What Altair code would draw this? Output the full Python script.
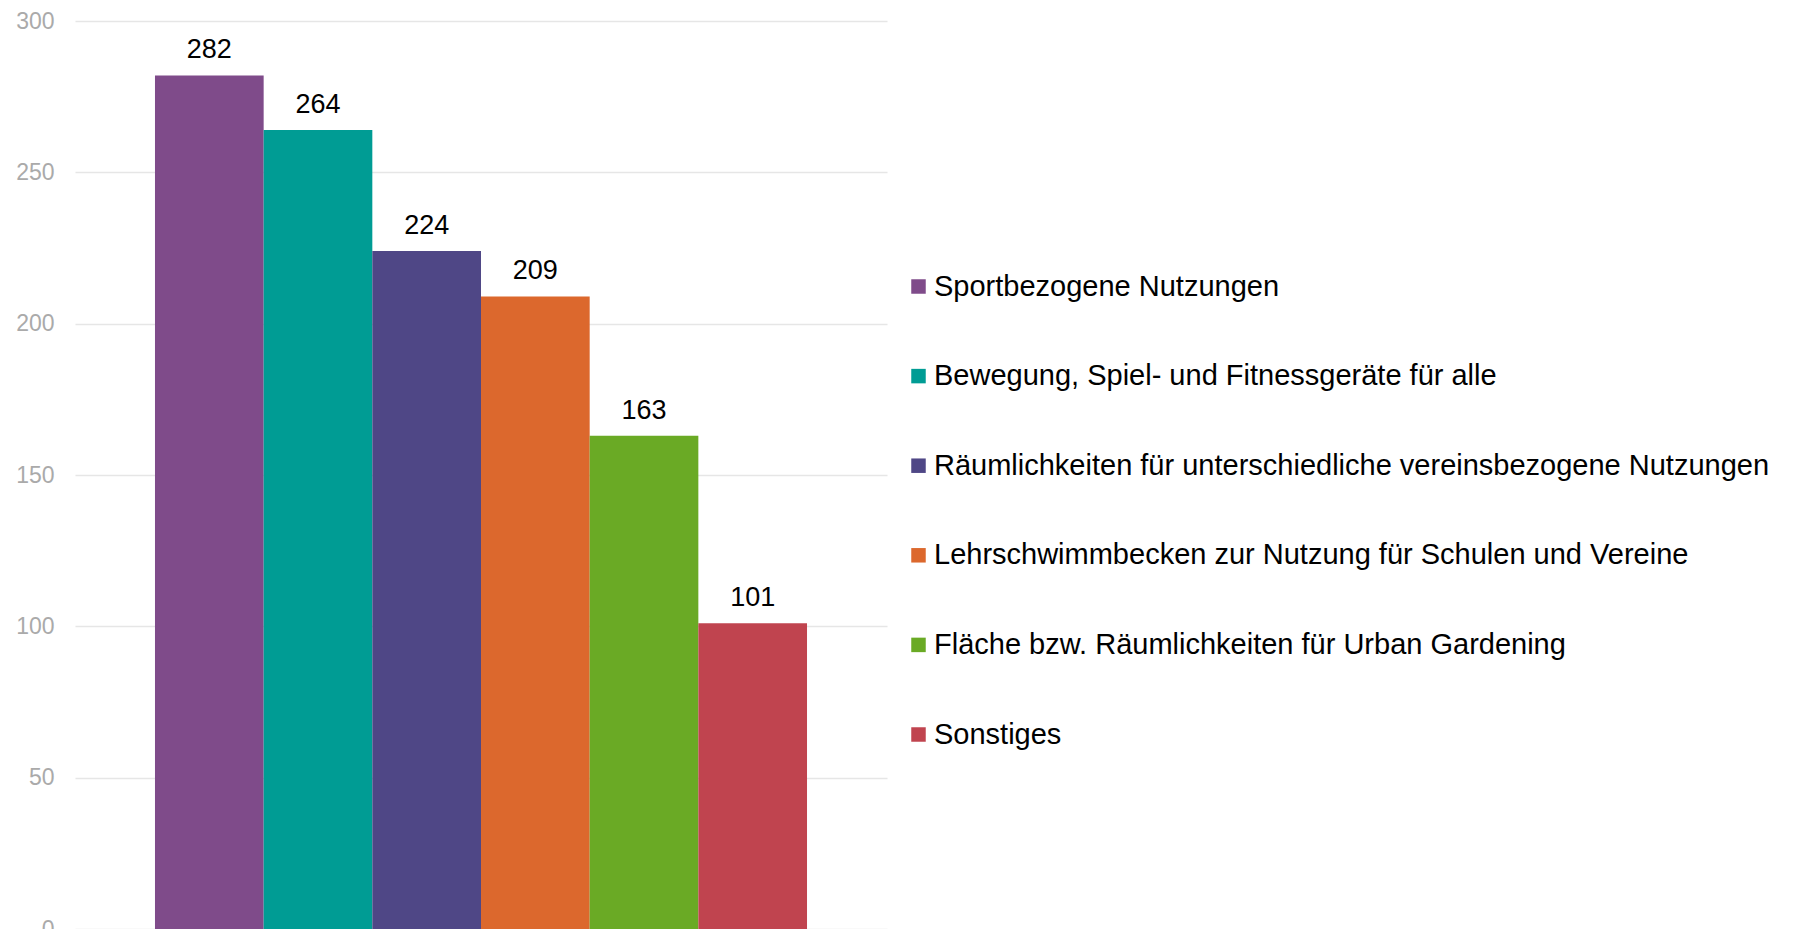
import altair as alt
import pandas as pd

categories = [
    "Sportbezogene Nutzungen",
    "Bewegung, Spiel- und Fitnessgeräte für alle",
    "Räumlichkeiten für unterschiedliche vereinsbezogene Nutzungen",
    "Lehrschwimmbecken zur Nutzung für Schulen und Vereine",
    "Fläche bzw. Räumlichkeiten für Urban Gardening",
    "Sonstiges",
]
values = [282, 264, 224, 209, 163, 101]
colors = ["#7F4B8A", "#009C94", "#4F4786", "#DC682D", "#6AAA25", "#C0444F"]
y_ticks = [0, 50, 100, 150, 200, 250, 300]

df = pd.DataFrame({"Kategorie": categories, "Anzahl": values})

FONT = "Liberation Sans"

x_scale = alt.Scale(paddingInner=0, paddingOuter=0.736)
y_scale = alt.Scale(domain=[0, 300], nice=False)

bars = alt.Chart(df).mark_bar().encode(
    x=alt.X("Kategorie:N", sort=categories, axis=None, scale=x_scale),
    y=alt.Y(
        "Anzahl:Q",
        scale=y_scale,
        axis=alt.Axis(
            values=y_ticks,
            title=None,
            domain=False,
            ticks=False,
            labelFontSize=23,
            labelColor="#aaaaaa",
            labelFont=FONT,
            labelPadding=21,
            gridColor="#e6e6e6",
            gridWidth=1.3,
        ),
    ),
    color=alt.Color(
        "Kategorie:N",
        sort=categories,
        scale=alt.Scale(domain=categories, range=colors),
        legend=alt.Legend(
            title=None,
            orient="none",
            legendX=829,
            legendY=251,
            symbolType="square",
            symbolSize=210,
            symbolStrokeWidth=0,
            labelFontSize=29,
            labelFont=FONT,
            labelColor="#000000",
            labelLimit=1000,
            rowPadding=59.6,
            labelOffset=1,
        ),
    ),
)

labels = alt.Chart(df).mark_text(
    baseline="bottom", dy=-11, fontSize=27, font=FONT, color="#000000"
).encode(
    x=alt.X("Kategorie:N", sort=categories, axis=None, scale=x_scale),
    y=alt.Y("Anzahl:Q", scale=y_scale),
    text="Anzahl:Q",
)

chart = (
    alt.layer(bars, labels)
    .properties(
        width=812,
        height=908,
        autosize=alt.AutoSizeParams(type="none"),
        padding={"left": 67, "top": 13, "right": 890, "bottom": 0},
    )
    .configure_view(stroke=None)
)

chart.save("out.html", embed_options={"renderer": "svg", "actions": False})
